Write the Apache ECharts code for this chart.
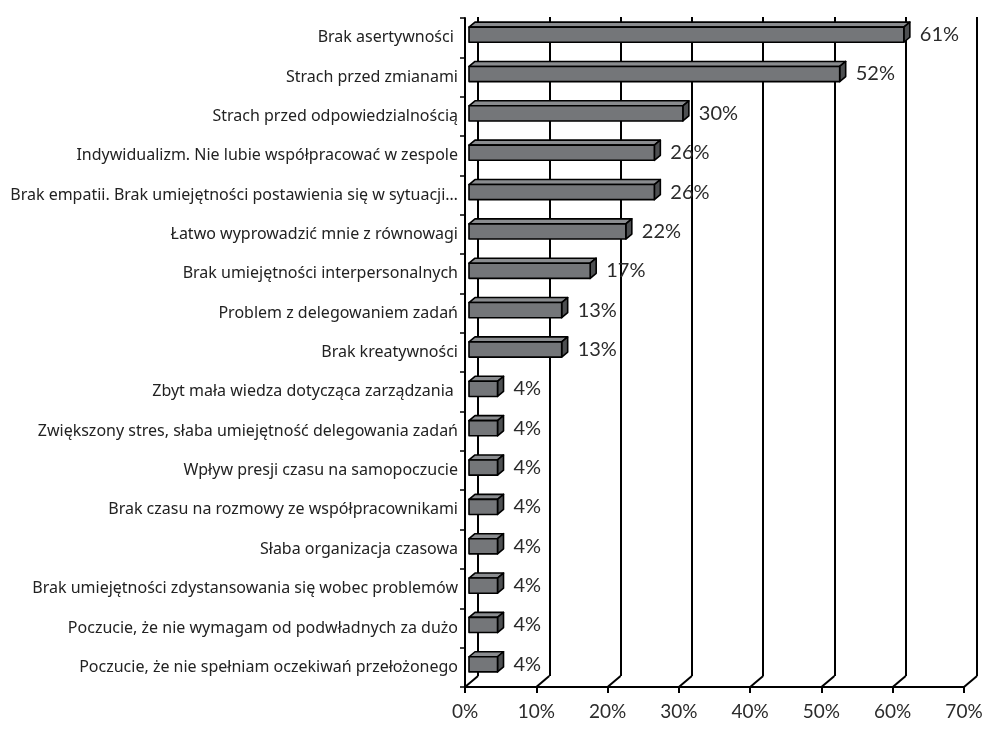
<!DOCTYPE html>
<html>
<head>
<meta charset="utf-8">
<script src="https://cdn.jsdelivr.net/npm/echarts@6/dist/echarts.min.js"></script>
<style>
  html, body { margin: 0; padding: 0; background: #fff; }
  #chart { width: 991px; height: 729px; }
</style>
</head>
<body>
<div id="chart"></div>
<script>
// Survey answers (share of respondents, %)
const categories = [
  'Brak asertywności ',
  'Strach przed zmianami',
  'Strach przed odpowiedzialnością',
  'Indywidualizm. Nie lubie współpracować w zespole',
  'Brak empatii. Brak umiejętności postawienia się w sytuacji…',
  'Łatwo wyprowadzić mnie z równowagi',
  'Brak umiejętności interpersonalnych',
  'Problem z delegowaniem zadań',
  'Brak kreatywności',
  'Zbyt mała wiedza dotycząca zarządzania ',
  'Zwiększony stres, słaba umiejętność delegowania zadań',
  'Wpływ presji czasu na samopoczucie',
  'Brak czasu na rozmowy ze współpracownikami',
  'Słaba organizacja czasowa',
  'Brak umiejętności zdystansowania się wobec problemów',
  'Poczucie, że nie wymagam od podwładnych za dużo',
  'Poczucie, że nie spełniam oczekiwań przełożonego'
];
const values = [61, 52, 30, 26, 26, 22, 17, 13, 13, 4, 4, 4, 4, 4, 4, 4, 4];
const axisTicks = [0, 10, 20, 30, 40, 50, 60, 70];

const LABEL_FONT = 'Noto Sans';
const VALUE_FONT = 'Lato';
const DEPTH_X = 13, DEPTH_Y = 11;   // floor depth of the 3D box
const BAR_DX = 6, BAR_DY = 5;       // bar thickness in depth

const chart = echarts.init(document.getElementById('chart'), null, { renderer: 'canvas' });

// 3D bar: front face, top face and end cap
function renderBar(params, api) {
  const v = api.value(0);
  const idx = api.value(1);
  const p0 = api.coord([0, idx]);
  const p1 = api.coord([v, idx]);
  const band = api.size([0, 1])[1];
  const h = band * 0.385;
  const x0 = p0[0] + 4, x1 = p1[0] + 4;
  const cy = p0[1] - 3;
  const top = cy - h / 2, bot = cy + h / 2;
  const stroke = { stroke: '#000', lineWidth: 1.6, lineJoin: 'round' };
  return {
    type: 'group',
    children: [
      { type: 'polygon', shape: { points: [[x0, top], [x1, top], [x1 + BAR_DX, top - BAR_DY], [x0 + BAR_DX, top - BAR_DY]] },
        style: Object.assign({ fill: '#8a8c8f' }, stroke) },
      { type: 'polygon', shape: { points: [[x1, top], [x1 + BAR_DX, top - BAR_DY], [x1 + BAR_DX, bot - BAR_DY], [x1, bot]] },
        style: Object.assign({ fill: '#4d4f51' }, stroke) },
      { type: 'rect', shape: { x: x0, y: top, width: x1 - x0, height: h },
        style: Object.assign({ fill: '#747679' }, stroke) },
      { type: 'text', style: { x: x1 + BAR_DX + 10, y: cy, text: v + '%', fill: '#2b2b2b',
        font: '20px ' + VALUE_FONT, textVerticalAlign: 'middle', textAlign: 'left' } }
    ]
  };
}

// slanted floor segments joining the front axis ticks to the back wall lines
function renderFloor(params, api) {
  const v = api.value(0);
  const p = api.coord([v, 0]);
  const cs = params.coordSys;
  const yb = cs.y + cs.height;
  return {
    type: 'line',
    shape: { x1: p[0], y1: yb, x2: p[0] + DEPTH_X, y2: yb - DEPTH_Y },
    style: { stroke: '#000', lineWidth: 2 }
  };
}

const option = {
  animation: false,
  backgroundColor: '#fff',
  grid: [
    { left: 465, right: 27, top: 18, bottom: 42 },                   // front plane
    { left: 465 + DEPTH_X, right: 27 - DEPTH_X, top: 17, bottom: 42 + DEPTH_Y } // back wall
  ],
  xAxis: [
    {
      gridIndex: 0, type: 'value', min: 0, max: 70, interval: 10,
      axisLine: { show: true, lineStyle: { color: '#000', width: 2 } },
      axisTick: { show: true, length: 6, lineStyle: { color: '#000', width: 2 } },
      splitLine: { show: false },
      axisLabel: { formatter: '{value}%', fontFamily: VALUE_FONT, fontSize: 19, color: '#2b2b2b', margin: 15 }
    },
    {
      gridIndex: 1, type: 'value', min: 0, max: 70, interval: 10,
      axisLine: { show: false }, axisTick: { show: false }, axisLabel: { show: false },
      splitLine: { show: true, showMinLine: true, showMaxLine: true, lineStyle: { color: '#000', width: 2 } }
    }
  ],
  yAxis: [
    {
      gridIndex: 0, type: 'category', data: categories, inverse: true,
      axisLine: { show: true, lineStyle: { color: '#000', width: 2 } },
      axisTick: { show: true, length: 5, lineStyle: { color: '#000', width: 1.5 } },
      axisLabel: { fontFamily: LABEL_FONT, fontSize: 16, color: '#222', margin: 7 }
    },
    {
      gridIndex: 1, type: 'category', data: categories, inverse: true, show: false
    }
  ],
  series: [
    {
      type: 'custom', xAxisIndex: 0, yAxisIndex: 0, clip: false, z: 3,
      renderItem: renderFloor,
      encode: { x: 0 },
      data: axisTicks.map(t => [t])
    },
    {
      type: 'custom', xAxisIndex: 0, yAxisIndex: 0, clip: false, z: 5,
      renderItem: renderBar,
      encode: { x: 0, y: 1 },
      data: values.map((v, i) => [v, i])
    }
  ]
};

chart.setOption(option);
</script>
</body>
</html>
